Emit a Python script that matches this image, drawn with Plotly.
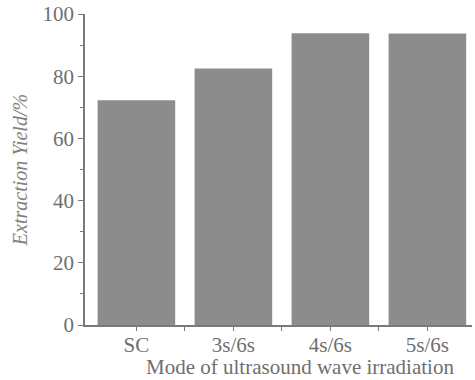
import plotly.graph_objects as go

# Extraction yield for each irradiation mode
modes = ["SC", "3s/6s", "4s/6s", "5s/6s"]
yield_pct = [72.3, 82.5, 93.8, 93.7]

y_ticks = [0, 20, 40, 60, 80, 100]

text_color = "#6f6f6f"
axis_color = "#7a7a7a"
bar_color = "#8c8c8c"
font_family = "Liberation Serif, Times New Roman, serif"

positions = list(range(len(modes)))

fig = go.Figure(
    go.Bar(
        x=positions,
        y=yield_pct,
        width=0.8,
        marker=dict(color=bar_color, line=dict(width=0)),
    )
)

fig.update_layout(
    width=475,
    height=380,
    margin=dict(l=85, r=3, t=14, b=55),
    paper_bgcolor="white",
    plot_bgcolor="white",
    showlegend=False,
    font=dict(family=font_family, color=text_color, size=21),
)

# category labels sit close to the axis; tick marks come from the minor ticks
fig.update_xaxes(
    range=[-0.53, 3.46],
    tickmode="array",
    tickvals=positions,
    ticktext=modes,
    ticks="",
    showline=True,
    linecolor=axis_color,
    linewidth=1.5,
    showgrid=False,
    zeroline=False,
    minor=dict(
        tickvals=[p for p in positions] + [p + 0.5 for p in positions[:-1]],
        ticks="outside", ticklen=4, tickcolor=axis_color, tickwidth=1.2,
    ),
    tickfont=dict(size=21, color=text_color),
)

fig.update_yaxes(
    range=[0, 100],
    tickmode="array",
    tickvals=y_ticks,
    ticks="outside",
    ticklen=5,
    tickcolor=axis_color,
    showline=True,
    linecolor=axis_color,
    linewidth=1.5,
    showgrid=False,
    zeroline=False,
    minor=dict(tickvals=[10, 30, 50, 70, 90], ticks="outside", ticklen=3, tickcolor=axis_color),
    tickfont=dict(size=21, color=text_color),
    title=dict(text="<i>Extraction Yield/%</i>", font=dict(size=20, color="#808080"), standoff=10),
)

# x-axis title, set slightly right of the plot centre
fig.add_annotation(
    text="Mode of ultrasound wave irradiation",
    xref="paper", yref="paper",
    x=0.555, y=-0.135,
    xanchor="center", yanchor="middle",
    showarrow=False,
    font=dict(size=21, color=text_color, family=font_family),
)

fig.write_html("out.html")
